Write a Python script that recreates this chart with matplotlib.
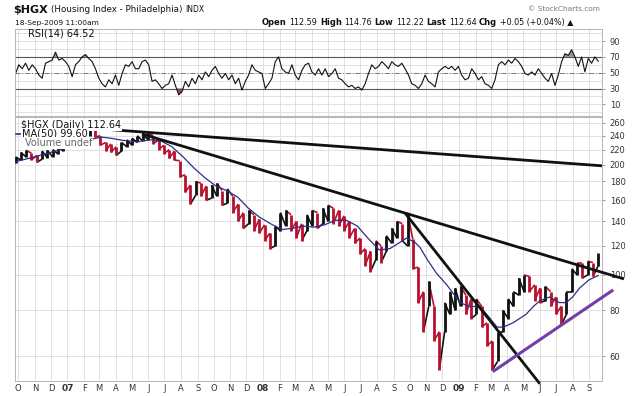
"""$HGX daily chart with RSI(14), MA(50) and hand-drawn trendlines (StockCharts style)."""
import matplotlib

matplotlib.use("Agg")
import matplotlib.dates as mdates
import matplotlib.pyplot as plt
import numpy as np
import pandas as pd
from matplotlib.collections import LineCollection
from matplotlib.lines import Line2D
from matplotlib.ticker import NullLocator

W, H = 636, 396
plt.rcParams["font.family"] = ["DejaVu Sans"]

# ---------------- data ----------------
PRICE_START, PRICE_END = "2006-09-26", "2009-09-18"
# roughly one sample every ~10 days: low / high of the period
price_low = [
    202, 206, 210, 206, 203, 207, 209, 210, 214, 218,
    222, 228, 230, 236, 240, 238, 226, 218, 216, 212,
    218, 224, 226, 230, 232, 234, 228, 220, 214, 208,
    206, 185, 168, 156, 165, 164, 160, 162, 164, 155,
    157, 148, 140, 134, 138, 132, 130, 124, 118, 120,
    132, 136, 132, 126, 124, 132, 136, 134, 138, 140,
    138, 136, 132, 126, 122, 114, 106, 102, 110, 108,
    116, 122, 126, 124, 120, 104, 84, 70, 82, 66,
    55, 70, 78, 80, 82, 78, 76, 78, 72, 64,
    55, 58, 70, 76, 82, 88, 90, 90, 85, 84,
    85, 82, 78, 73, 78, 90, 100, 98, 100, 99,
    106,
]
price_high = [
    210, 216, 219, 215, 212, 218, 219, 220, 224, 228,
    233, 240, 240, 248, 252, 251, 240, 230, 228, 224,
    230, 234, 236, 240, 243, 244, 240, 234, 226, 220,
    218, 205, 188, 176, 180, 178, 175, 176, 178, 170,
    172, 164, 156, 148, 150, 146, 142, 137, 130, 136,
    148, 150, 146, 140, 138, 146, 150, 148, 152, 155,
    152, 150, 145, 140, 134, 126, 118, 116, 124, 120,
    128, 134, 140, 138, 148, 125, 105, 90, 96, 82,
    70, 84, 90, 92, 93, 88, 86, 86, 82, 74,
    66, 70, 80, 86, 90, 98, 100, 99, 94, 92,
    93, 90, 87, 82, 90, 104, 108, 108, 109, 108,
    115,
]

ma_dates = [
    "2006-09-26", "2006-10-20", "2006-11-15", "2006-12-15", "2007-01-15",
    "2007-02-10", "2007-03-05", "2007-03-25", "2007-04-15", "2007-05-10",
    "2007-06-05", "2007-06-25", "2007-07-15", "2007-08-05", "2007-08-25",
    "2007-09-15", "2007-10-05", "2007-10-25", "2007-11-15", "2007-12-05",
    "2007-12-25", "2008-01-15", "2008-02-05", "2008-02-25", "2008-03-15",
    "2008-04-05", "2008-04-25", "2008-05-15", "2008-06-05", "2008-06-25",
    "2008-07-15", "2008-08-05", "2008-08-25", "2008-09-10", "2008-09-25",
    "2008-10-10", "2008-10-20", "2008-11-03", "2008-11-20", "2008-12-09",
    "2009-01-03", "2009-01-20", "2009-02-09", "2009-02-25", "2009-03-13",
    "2009-03-25", "2009-04-12", "2009-05-06", "2009-05-20", "2009-06-01",
    "2009-06-19", "2009-07-07", "2009-07-20", "2009-08-01", "2009-08-14",
    "2009-09-01", "2009-09-18",
]
ma_values = [
    204, 208, 213, 219, 227, 234, 238, 236, 233, 231,
    234, 232, 224, 210, 196, 184, 175, 170, 163, 152,
    144, 138, 133, 134, 136, 135, 137, 141, 141, 136,
    126, 117, 118, 122, 126, 123, 119, 110, 101, 94,
    84, 82, 82, 77, 72, 72, 74, 78, 82, 85,
    87, 84, 84, 87, 92, 97, 99.6,
]

rsi_values = [
    49, 60, 55, 62, 53, 60, 55, 47, 43, 62, 64, 66, 76, 66, 68, 64, 58, 45, 60, 64,
    70, 73, 68, 64, 55, 43, 36, 32, 41, 36, 47, 34, 49, 60, 58, 64, 55, 55, 64, 66,
    60, 39, 41, 36, 30, 34, 36, 47, 34, 22, 26, 39, 32, 43, 36, 47, 41, 51, 45, 53,
    58, 49, 43, 49, 41, 47, 36, 43, 28, 39, 47, 60, 53, 51, 49, 30, 36, 43, 64, 70,
    55, 51, 49, 60, 47, 41, 53, 60, 62, 51, 47, 55,
    47, 55, 45, 49, 55, 43, 41, 36, 32, 34, 30, 32, 28, 36, 49, 60, 55, 58, 64, 60,
    55, 64, 60, 58, 62, 55, 47, 36, 34, 30, 36, 47, 39, 36, 32, 51, 55, 58, 55, 58,
    53, 58, 47, 41, 43, 55, 49, 41, 45, 36, 34, 30, 41, 60, 64, 60, 66, 62, 68, 64,
    58, 49, 47, 51, 47, 55, 49, 43, 39, 49, 34, 47, 64, 74, 72, 79, 70, 58, 70, 51,
    68, 62, 70, 64.5,
]

# trendlines drawn on the chart: (start date, value) -> (end date, value)
trend_black = [
    (("2007-02-08", 252.0), ("2009-09-25", 198.6)),
    (("2007-05-20", 242.7), ("2009-11-05", 97.5)),
    (("2008-09-22", 147.7), ("2009-06-01", 50.4)),
]
trend_purple = (("2009-03-05", 54.4), ("2009-10-16", 91.0))

price_ticks = [60, 80, 100, 120, 140, 160, 180, 200, 220, 240, 260]
rsi_ticks = [10, 30, 50, 70, 90]

X_MIN, X_MAX = "2006-09-25", "2009-09-25"
RED, BLACK, NAVY, PURPLE = "#b8102e", "#111111", "#2b2f86", "#7040a8"
GRID, SPINE, TXT = "#dcdcdc", "#b4b4b4", "#333333"

# ---------------- figure / panels ----------------
fig = plt.figure(figsize=(W / 100, H / 100), dpi=100)
fig.patch.set_facecolor("white")


def axes_px(x0, y0, x1, y1):
    return fig.add_axes([x0 / W, 1 - y1 / H, (x1 - x0) / W, (y1 - y0) / H])


def fig_text(x, y, s, **kw):
    return fig.text(x / W, 1 - y / H, s, **kw)


ax_rsi = axes_px(15, 29, 602, 116)
ax = axes_px(15, 117, 602, 381)

month_starts = pd.date_range("2006-10-01", "2009-09-01", freq="MS")
month_labels = [d.strftime("%y") if d.month == 1 else d.strftime("%b")[0] for d in month_starts]

for a in (ax_rsi, ax):
    a.set_xlim(mdates.date2num(pd.Timestamp(X_MIN)), mdates.date2num(pd.Timestamp(X_MAX)))
    a.set_xticks(mdates.date2num(month_starts))
    a.grid(True, which="both", color=GRID, lw=0.6)
    a.set_axisbelow(True)
    for sp in a.spines.values():
        sp.set_color(SPINE)
        sp.set_linewidth(0.7)
    a.yaxis.tick_right()
    a.tick_params(axis="y", which="major", length=2.5, width=0.6, color="#888888",
                  pad=3, labelsize=6, labelcolor=TXT)
    a.tick_params(axis="x", length=0)

# ---- RSI panel ----
rsi = np.array(rsi_values, dtype=float)
rsi_x = mdates.date2num(pd.date_range(PRICE_START, PRICE_END, periods=len(rsi)))
ax_rsi.set_ylim(-4.8, 105.3)
ax_rsi.set_yticks(rsi_ticks)
ax_rsi.set_yticklabels([str(v) for v in rsi_ticks])
ax_rsi.set_yticks(range(0, 101, 10), minor=True)
ax_rsi.tick_params(axis="y", which="minor", length=0)
ax_rsi.tick_params(axis="x", labelbottom=False)
ax_rsi.axhline(70, color="#555555", lw=0.8)
ax_rsi.axhline(30, color="#555555", lw=0.8)
ax_rsi.axhline(50, color="#777777", lw=0.7, ls=(0, (5, 2, 1, 2)))
ax_rsi.fill_between(rsi_x, rsi, 70, where=rsi >= 70, interpolate=True, color="#8c9a8c", lw=0)
ax_rsi.fill_between(rsi_x, rsi, 30, where=rsi <= 30, interpolate=True, color="#a04a62", lw=0)
ax_rsi.plot(rsi_x, rsi, color=BLACK, lw=0.8)

# ---- price panel ----
ax.set_yscale("log")
ax.set_ylim(51.3, 270)
ax.set_yticks(price_ticks)
ax.set_yticklabels([str(v) for v in price_ticks])
ax.yaxis.set_minor_locator(NullLocator())
ax.set_xticklabels(month_labels)
ax.tick_params(axis="x", pad=2, labelsize=6, labelcolor=TXT)
for lbl, d in zip(ax.get_xticklabels(), month_starts):
    if d.month == 1:
        lbl.set_fontweight("bold")
        lbl.set_fontsize(6.5)

# price bars: one low-high bar per period, joined into a jagged stroke
lo = np.array(price_low, dtype=float)
hi = np.array(price_high, dtype=float)
mid = (lo + hi) / 2
px = mdates.date2num(pd.date_range(PRICE_START, PRICE_END, periods=len(lo)))
bars, bcols, links, lcols = [], [], [], []
prev = None
for i in range(len(lo)):
    up = i == 0 or mid[i] >= mid[i - 1]
    c = BLACK if up else RED
    a_, b_ = (lo[i], hi[i]) if up else (hi[i], lo[i])
    if prev is not None:
        links.append([prev, (px[i], a_)])
        lcols.append(c)
    bars.append([(px[i], a_), (px[i], b_)])
    bcols.append(c)
    prev = (px[i], b_)
ax.add_collection(LineCollection(links, colors=lcols, linewidths=1.2, zorder=3))
ax.add_collection(LineCollection(bars, colors=bcols, linewidths=2.0, zorder=3))

ma_x = mdates.date2num(pd.to_datetime(ma_dates))
ax.plot(ma_x, ma_values, color=NAVY, lw=0.9, zorder=4)

for (d0, v0), (d1, v1) in trend_black:
    ax.plot(mdates.date2num(pd.to_datetime([d0, d1])), [v0, v1], color=BLACK,
            lw=2.0, solid_capstyle="butt", clip_on=False, zorder=5)
(d0, v0), (d1, v1) = trend_purple
ax.plot(mdates.date2num(pd.to_datetime([d0, d1])), [v0, v1], color=PURPLE,
        lw=2.2, solid_capstyle="butt", clip_on=False, zorder=5)

# ---------------- header / labels ----------------
renderer = fig.canvas.get_renderer()


def text_run(x, y, pieces, gap=3):
    for s, weight, size, color in pieces:
        t = fig_text(x, y, s, fontsize=size, fontweight=weight, color=color, va="center")
        x = t.get_window_extent(renderer).x1 + gap
    return x


text_run(13, 10, [("$HGX", "bold", 8, BLACK),
                  ("(Housing Index - Philadelphia)", "normal", 6.3, BLACK),
                  ("INDX", "normal", 5.5, BLACK)])
fig_text(600, 9, "\u00a9 StockCharts.com", fontsize=5.3, color="#777777", ha="right", va="center")
fig_text(15, 22.5, "18-Sep-2009 11:00am", fontsize=5.4, color=BLACK, va="center")
text_run(262, 22.5, [("Open", "bold", 6, BLACK), ("112.59", "normal", 5.8, BLACK),
                     ("High", "bold", 6, BLACK), ("114.76", "normal", 5.8, BLACK),
                     ("Low", "bold", 6, BLACK), ("112.22", "normal", 5.8, BLACK),
                     ("Last", "bold", 6, BLACK), ("112.64", "normal", 5.8, BLACK),
                     ("Chg", "bold", 6, BLACK), ("+0.05 (+0.04%) \u25b2", "normal", 5.8, BLACK)],
         gap=2.6)

fig_text(28, 34, "RSI(14) 64.52", fontsize=7, color=BLACK, va="center")

box = dict(facecolor="white", edgecolor="none", pad=0.6)
fig_text(21, 125, "$HGX (Daily) 112.64", fontsize=7, color=BLACK, va="center", bbox=box)
fig.add_artist(Line2D([16 / W, 21 / W], [1 - 134 / H, 1 - 134 / H], color=NAVY, lw=1.2))
fig_text(22, 134, "MA(50) 99.60", fontsize=7, color=BLACK, va="center", bbox=box)
fig_text(25, 143, "Volume undef", fontsize=7, color="#666666", va="center", bbox=box)

fig.savefig("out.png", dpi=100, facecolor="white")
